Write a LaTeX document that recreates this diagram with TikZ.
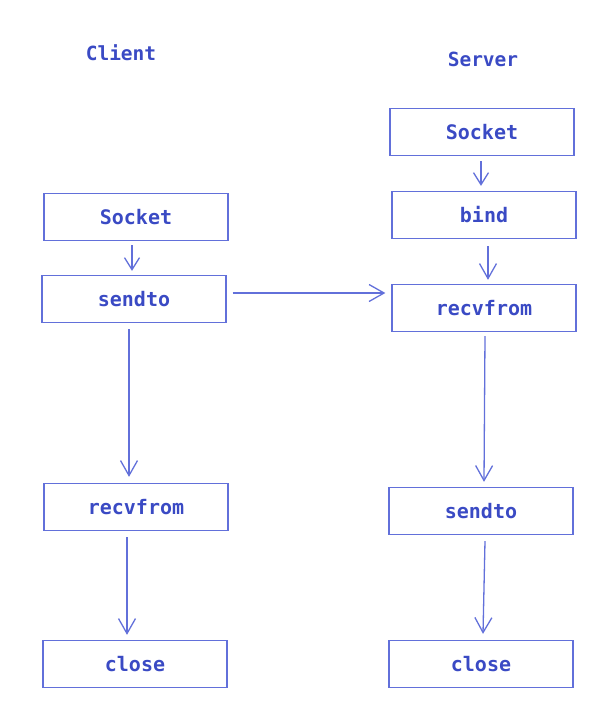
\documentclass[tikz,border=0pt]{standalone}
\usepackage{fontspec}
\setmonofont{DejaVu Sans Mono}
\usetikzlibrary{arrows.meta}
\definecolor{boxcol}{RGB}{98,112,218}
\definecolor{txtcol}{RGB}{58,74,196}
\tikzset{
  stepbox/.style={draw=boxcol, line width=1.3pt, minimum width=184pt, minimum height=47pt,
    inner sep=0pt, font=\fontsize{20}{22}\selectfont\ttfamily\bfseries, text=txtcol},
  lbl/.style={font=\fontsize{19.5}{22}\selectfont\ttfamily\bfseries, text=txtcol},
  arr/.style={draw=boxcol, line width=1.3pt, -{Straight Barb[length=12pt,width=15pt,line width=1.3pt]}},
  arrbig/.style={arr, -{Straight Barb[length=15pt,width=17pt,line width=1.3pt]}}
}
\begin{document}
\begin{tikzpicture}[x=1pt,y=-1pt]
\useasboundingbox (0,0) rectangle (604,724);
% titles
\node[lbl] (tc) at (121,53) {Client};
\node[lbl] (ts) at (483,59) {Server};
% client
\node[stepbox] (csock) at (136,217) {Socket};
\node[stepbox] (csend) at (134,299) {sendto};
\node[stepbox] (crecv) at (136,507) {recvfrom};
\node[stepbox] (cclose) at (135,664) {close};
% server
\node[stepbox] (ssock) at (482,132) {Socket};
\node[stepbox] (sbind) at (484,215) {bind};
\node[stepbox] (srecv) at (484,308) {recvfrom};
\node[stepbox] (ssend) at (481,511) {sendto};
\node[stepbox] (sclose) at (481,664) {close};
% client arrows
\draw[arr] ([xshift=-4pt,yshift=-4pt]csock.south) -- ([xshift=-2pt,yshift=4pt]csend.north);
\draw[arrbig] ([xshift=-5pt,yshift=-6pt]csend.south) -- ([xshift=-7pt,yshift=6pt]crecv.north);
\draw[arrbig] ([xshift=-9pt,yshift=-6pt]crecv.south) -- ([xshift=-8pt,yshift=5pt]cclose.north);
% cross arrow
\draw[arrbig] ([xshift=6pt,yshift=6pt]csend.east) -- ([xshift=-6pt,yshift=15pt]srecv.west);
% server arrows
\draw[arr] ([xshift=-1pt,yshift=-5pt]ssock.south) -- ([xshift=-3pt,yshift=5pt]sbind.north);
\draw[arrbig] ([xshift=4pt,yshift=-7pt]sbind.south) -- ([xshift=4pt,yshift=4pt]srecv.north);
\draw[arrbig] ([xshift=1pt,yshift=-4pt]srecv.south) -- ([xshift=3pt,yshift=5pt]ssend.north);
\draw[arrbig] ([xshift=4pt,yshift=-6pt]ssend.south) -- ([xshift=2pt,yshift=6pt]sclose.north);
\end{tikzpicture}
\end{document}
